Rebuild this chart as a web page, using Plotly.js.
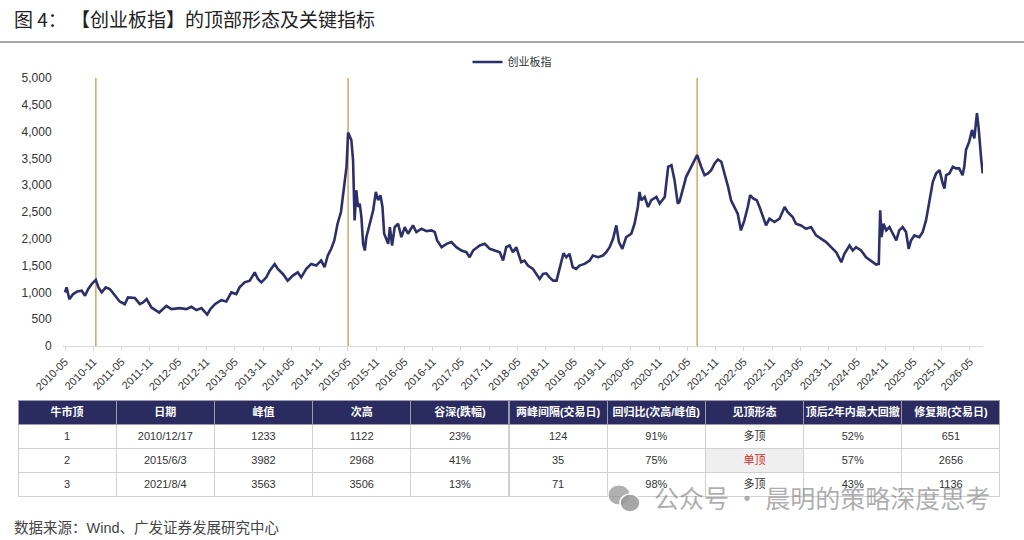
<!DOCTYPE html>
<html><head><meta charset="utf-8">
<script src="https://cdn.plot.ly/plotly-3.0.1.min.js"></script>
<style>html,body{margin:0;padding:0;background:#fff;}#chart{width:1024px;height:540px;}</style>
</head><body><div id="chart"></div>
<script>
// ---- data ----
const seriesName = '创业板指';
const dates = [
'2010-06-01','2010-06-11','2010-06-29','2010-07-24','2010-08-19','2010-09-17','2010-10-08','2010-10-29','2010-11-20','2010-12-17',
'2011-01-03','2011-01-24','2011-02-19','2011-03-17','2011-04-12','2011-05-20','2011-06-22','2011-07-13','2011-08-26','2011-09-27','2011-10-18','2011-11-10','2011-12-11',
'2012-01-13','2012-01-30','2012-03-17','2012-04-18','2012-06-11','2012-07-24','2012-08-25','2012-09-27','2012-10-29','2012-12-05','2012-12-26',
'2013-01-24','2013-03-06','2013-04-08','2013-05-10','2013-06-11','2013-07-02','2013-08-04','2013-09-06','2013-10-08','2013-10-29','2013-11-20','2013-12-22',
'2014-01-13','2014-02-14','2014-03-06','2014-04-08','2014-05-09','2014-06-11','2014-07-13','2014-08-04','2014-09-06','2014-10-08','2014-11-09','2014-12-11',
'2015-01-02','2015-01-23','2015-02-14','2015-03-06','2015-03-27','2015-04-18','2015-05-09','2015-05-24','2015-06-03','2015-06-24','2015-07-05','2015-07-15','2015-07-26','2015-08-06','2015-08-17','2015-08-28','2015-09-08','2015-09-19','2015-09-29','2015-10-21','2015-11-12','2015-11-29','2015-12-14','2015-12-29',
'2016-01-11','2016-01-22','2016-02-17','2016-02-28','2016-03-13','2016-03-30','2016-04-21','2016-05-12','2016-06-03','2016-06-24','2016-07-26','2016-08-17','2016-09-19','2016-10-21','2016-11-23','2016-12-14','2016-12-29',
'2017-01-27','2017-02-28','2017-03-31','2017-05-02','2017-06-04','2017-07-06','2017-07-27','2017-08-18','2017-09-30','2017-11-02','2017-12-04',
'2018-01-06','2018-02-07','2018-02-28','2018-03-20','2018-04-11','2018-05-02','2018-05-24','2018-06-25','2018-07-16','2018-08-07','2018-09-09','2018-10-01','2018-10-22','2018-11-13','2018-12-04','2018-12-25',
'2019-01-17','2019-02-08','2019-02-28','2019-03-25','2019-04-12','2019-05-03','2019-05-24','2019-06-15','2019-07-06','2019-08-08','2019-09-10','2019-10-01','2019-11-03','2019-12-05','2019-12-26',
'2020-01-17','2020-02-08','2020-02-29','2020-03-17','2020-04-08','2020-05-03','2020-06-05','2020-06-26','2020-07-17','2020-07-28','2020-08-08','2020-08-30','2020-09-21','2020-10-12','2020-11-14','2020-12-05',
'2021-01-07','2021-01-29','2021-02-19','2021-03-11','2021-04-01','2021-04-12','2021-05-04','2021-05-25','2021-06-16','2021-07-07','2021-07-28','2021-08-04','2021-08-30','2021-09-21','2021-10-13','2021-11-03','2021-11-25','2021-12-16',
'2022-01-07','2022-01-29','2022-02-20','2022-03-11','2022-04-02','2022-04-23','2022-05-14','2022-06-05','2022-06-27','2022-07-12','2022-08-03','2022-08-24','2022-09-11','2022-10-02','2022-10-23','2022-11-14','2022-12-16',
'2023-01-18','2023-02-20','2023-03-11','2023-04-13','2023-05-04','2023-06-06','2023-07-08','2023-08-10','2023-09-11','2023-10-13','2023-11-15','2023-12-17',
'2024-01-19','2024-02-21','2024-03-12','2024-04-14','2024-05-05','2024-05-26','2024-06-28','2024-07-30','2024-09-01','2024-10-03','2024-10-20','2024-10-29','2024-11-07','2024-11-20','2024-12-07','2024-12-28',
'2025-01-19','2025-02-10','2025-03-01','2025-03-23','2025-04-14','2025-05-01','2025-05-16','2025-06-07','2025-07-09','2025-07-30','2025-08-21','2025-09-12','2025-10-04','2025-10-25','2025-11-16','2025-12-07','2025-12-18','2025-12-29',
'2026-01-19','2026-02-10','2026-03-02','2026-03-23','2026-04-14','2026-04-25','2026-05-06','2026-05-27','2026-06-14','2026-06-29','2026-07-16','2026-07-26','2026-08-06','2026-08-13','2026-08-22'
];
const values = [
1000,1094,875,969,1019,1031,938,1063,1156,1233,
1094,1000,1094,1063,969,831,781,906,894,781,813,875,719,
656,625,750,688,706,688,731,669,706,585,688,
781,856,831,1000,969,1094,1188,1219,1375,1250,1188,1281,
1406,1531,1438,1344,1219,1313,1375,1281,1438,1531,1500,1594,
1469,1688,1813,1969,2281,2500,2969,3344,3982,3844,3469,2344,2906,2594,2656,2406,1906,1781,2031,2281,2531,2875,2719,2813,
2594,2094,1906,2219,1875,2219,2281,2031,2219,2094,2250,2125,2188,2144,2156,2125,1969,
1844,1906,1938,1844,1781,1750,1656,1781,1875,1906,1813,
1781,1750,1594,1844,1875,1750,1844,1563,1594,1500,1438,1344,1250,1344,1356,1281,
1219,1219,1469,1731,1656,1719,1469,1438,1500,1531,1594,1688,1656,1688,1750,
1844,2000,2250,1938,1813,2031,2094,2281,2594,2875,2719,2781,2594,2719,2781,2656,
2781,3344,3375,3094,2656,2688,2906,3156,3281,3406,3531,3563,3344,3188,3219,3281,3406,3481,
3438,3219,2969,2719,2594,2469,2156,2344,2594,2813,2750,2719,2594,2406,2250,2375,2313,
2375,2594,2500,2406,2281,2250,2188,2219,2063,2000,1938,1844,
1750,1563,1719,1875,1781,1844,1781,1656,1594,1519,1531,2531,2031,2281,2156,2219,
2094,1969,2156,2219,2125,1813,1969,2063,2031,2125,2344,2719,3063,3219,3281,3031,2938,3188,
3219,3344,3313,3313,3188,3344,3656,3813,4031,3875,4344,4094,3656,3469,3219
];
const tickLabels = ['2010-05','2010-11','2011-05','2011-11','2012-05','2012-11','2013-05','2013-11','2014-05','2014-11','2015-05','2015-11','2016-05','2016-11','2017-05','2017-11','2018-05','2018-11','2019-05','2019-11','2020-05','2020-11','2021-05','2021-11','2022-05','2022-11','2023-05','2023-11','2024-05','2024-11','2025-05','2025-11','2026-05'];

const tableHeader = ['牛市顶','日期','峰值','次高','谷深(跌幅)','两峰间隔(交易日)','回归比(次高/峰值)','见顶形态','顶后2年内最大回撤','修复期(交易日)'];
const colNo = ['1','2','3'];
const colDate = ['2010/12/17','2015/6/3','2021/8/4'];
const colPeak = ['1233','3982','3563'];
const colSecond = ['1122','2968','3506'];
const colDepth = ['23%','41%','13%'];
const colGap = ['124','35','71'];
const colRatio = ['91%','75%','98%'];
const colShape = ['多顶','单顶','多顶'];
const colDrawdown = ['52%','57%','43%'];
const colRepair = ['651','2656','1136'];

// ---- build ----
function nextMonthStart(lbl){
  let y = +lbl.slice(0,4), m = +lbl.slice(5,7) + 1;
  if (m > 12) { m = 1; y++; }
  return y + '-' + String(m).padStart(2,'0') + '-01';
}
const tickVals = tickLabels.map(nextMonthStart);
const peakDates = colDate.map(d => { const p = d.split('/'); return p[0] + '-' + p[1].padStart(2,'0') + '-' + p[2].padStart(2,'0'); });

const FONT = 'Liberation Sans, Arial, "Noto Sans CJK SC", sans-serif';
const W = 982, H = 422, L = 18, T = 78;
const px = x => (x - L) / W;
const py = y => (T + H - y) / H;

const lineTrace = {
  type: 'scatter', mode: 'lines', name: seriesName,
  x: dates, y: values,
  line: {color: '#2D3068', width: 2.6},
  xaxis: 'x', yaxis: 'y'
};

const cellFill = tableHeader.map((h, ci) => colNo.map((_, ri) => (ci === 7 && colShape[ri] === '单顶') ? '#EFEFEF' : '#FFFFFF'));
const cellFontColor = tableHeader.map((h, ci) => colNo.map((_, ri) => (ci === 7 && colShape[ri] === '单顶') ? '#D42A2A' : '#333333'));

const tableTrace = {
  type: 'table',
  domain: {x: [0, 1], y: [py(497), py(400)]},
  columnwidth: tableHeader.map(() => 1),
  header: {
    values: tableHeader,
    fill: {color: '#2A2C5F'},
    font: {family: FONT, size: 11, color: '#FFFFFF', weight: 'bold'},
    align: 'center', height: 24,
    line: {color: '#9A9AB0', width: 1}
  },
  cells: {
    values: [colNo, colDate, colPeak, colSecond, colDepth, colGap, colRatio, colShape, colDrawdown, colRepair],
    fill: {color: cellFill},
    font: {family: FONT, size: 11, color: cellFontColor},
    align: 'center', height: 24,
    line: {color: '#D0D0D0', width: 1}
  }
};

const shapes = peakDates.map(d => ({
  type: 'line', xref: 'x', yref: 'y', x0: d, x1: d, y0: 0, y1: 5000,
  line: {color: '#D8A467', width: 1.5}, layer: 'below'
}));
shapes.push({type: 'line', xref: 'paper', yref: 'paper', x0: px(0), x1: px(1024), y0: py(42), y1: py(42),
  line: {color: '#8A8A8A', width: 1.5}});
// watermark icon (two chat bubbles)
shapes.push({type: 'circle', xref: 'paper', yref: 'paper', x0: px(608), x1: px(630), y0: py(505), y1: py(485),
  fillcolor: 'rgba(150,150,150,0.75)', line: {color: '#FFFFFF', width: 1}, layer: 'above'});
shapes.push({type: 'circle', xref: 'paper', yref: 'paper', x0: px(620), x1: px(640), y0: py(512), y1: py(494),
  fillcolor: 'rgba(150,150,150,0.85)', line: {color: '#FFFFFF', width: 1.5}, layer: 'above'});

const layout = {
  width: 1024, height: 540,
  margin: {l: L, r: 1024 - L - W, t: T, b: 540 - T - H},
  paper_bgcolor: '#FFFFFF', plot_bgcolor: '#FFFFFF',
  font: {family: FONT, color: '#333333', size: 11},
  showlegend: true,
  legend: {orientation: 'h', x: px(512), xanchor: 'center', y: py(62), yanchor: 'middle',
    font: {family: FONT, size: 11, color: '#333'}, bgcolor: 'rgba(0,0,0,0)', itemwidth: 30},
  xaxis: {
    type: 'date', domain: [px(63), px(983)],
    range: ['2010-05-19', '2026-08-24'],
    tickmode: 'array', tickvals: tickVals, ticktext: tickLabels,
    tickangle: -45, tickfont: {family: FONT, size: 11, color: '#333'},
    showgrid: false, zeroline: false,
    showline: true, linecolor: '#D9D9D9', linewidth: 1,
    ticks: 'outside', ticklen: 4, tickcolor: '#D9D9D9',
    anchor: 'y', fixedrange: true
  },
  yaxis: {
    domain: [py(346), py(78)], range: [0, 5000], dtick: 500, tickformat: ',d',
    tickfont: {family: FONT, size: 12, color: '#333'},
    showgrid: false, zeroline: false, showline: false,
    ticks: 'outside', ticklen: 8, tickcolor: 'rgba(0,0,0,0)',
    anchor: 'x', fixedrange: true
  },
  shapes: shapes,
  annotations: [
    {xref: 'paper', yref: 'paper', x: px(12), y: py(18), xanchor: 'left', yanchor: 'middle', showarrow: false,
      text: '图 4： 【创业板指】的顶部形态及关键指标', font: {family: '"Noto Sans CJK SC", sans-serif', size: 19, color: '#222'}},
    {xref: 'paper', yref: 'paper', x: px(12), y: py(528), xanchor: 'left', yanchor: 'middle', showarrow: false,
      text: '数据来源：Wind、广发证券发展研究中心', font: {family: FONT, size: 14.5, color: '#444'}},
    {xref: 'paper', yref: 'paper', x: px(992), y: py(497), xanchor: 'right', yanchor: 'middle', showarrow: false,
      text: '公众号 · 晨明的策略深度思考', font: {family: '"Noto Sans CJK SC", sans-serif', size: 25, color: 'rgba(120,120,120,0.6)'}}
  ]
};

Plotly.newPlot('chart', [lineTrace, tableTrace], layout, {displayModeBar: false, staticPlot: true});
</script></body></html>
